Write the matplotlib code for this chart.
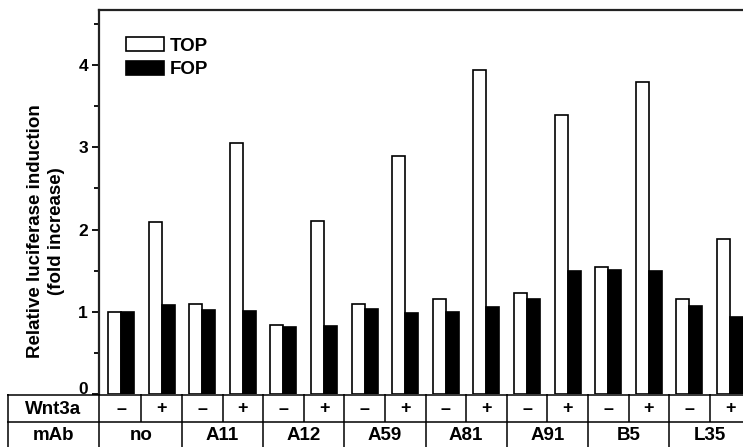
import matplotlib.pyplot as plt
from matplotlib.patches import Patch
from matplotlib.transforms import ScaledTranslation

plt.rcParams['font.family'] = ['Liberation Sans', 'DejaVu Sans']
plt.rcParams['font.weight'] = 'bold'

groups = ['no', 'A11', 'A12', 'A59', 'A81', 'A91', 'B5', 'L35']
wnt = ['\u2013', '+'] * 8
top = [1.00, 2.09, 1.09, 3.05, 0.84, 2.11, 1.10, 2.90,
       1.15, 3.94, 1.23, 3.39, 1.55, 3.80, 1.15, 1.88]
fop = [1.00, 1.08, 1.02, 1.01, 0.82, 0.83, 1.03, 0.99,
       1.00, 1.06, 1.16, 1.50, 1.51, 1.50, 1.07, 0.94]

W, H = 743, 447
fig = plt.figure(figsize=(W / 100, H / 100), dpi=100)

# pixel helpers
ax_l, ax_r, ax_t, ax_b = 99, 743, 10, 394
x0, dx = 121, 40.6
def px2x(p):
    return (p - x0) / dx

ax = fig.add_axes([ax_l / W, 1 - ax_b / H, (ax_r - ax_l) / W, (ax_b - ax_t) / H])
xs = list(range(len(top)))
w = 0.32
ax.bar([x - w for x in xs], top, width=w, align='edge', color='white',
       edgecolor='black', linewidth=1.2, label='TOP')
ax.bar(xs, fop, width=w, align='edge', color='black', edgecolor='black',
       linewidth=1.2, label='FOP')
ax.set_xlim(px2x(ax_l), px2x(ax_r))
ax.set_ylim(0, 4.67)
ax.set_yticks([0, 1, 2, 3, 4])
ax.set_yticks([0.5, 1.5, 2.5, 3.5, 4.5], minor=True)
ax.set_xticks([])
ax.tick_params(axis='y', which='major', length=5, width=1.3, labelsize=12.5, pad=3)
ax.tick_params(axis='y', which='minor', length=3.5, width=1.3)
labs = ax.get_yticklabels()
for lab in labs:
    lab.set_fontweight('bold')
# lift the "0" above the table line
labs[0].set_transform(labs[0].get_transform() +
                      ScaledTranslation(0, 6 / 100, fig.dpi_scale_trans))
ax.spines['bottom'].set_visible(False)
ax.spines['right'].set_visible(False)
for s in ['left', 'top']:
    ax.spines[s].set_linewidth(1.6)
    ax.spines[s].set_color('#222222')

handles = [Patch(facecolor='white', edgecolor='black', linewidth=1.2),
           Patch(facecolor='black', edgecolor='black', linewidth=1.2)]
ax.legend(handles, ['TOP', 'FOP'], loc='upper left', frameon=False,
          bbox_to_anchor=((126 - ax_l) / (ax_r - ax_l), 1 - (37 - ax_t) / (ax_b - ax_t)),
          borderaxespad=0, borderpad=0, handlelength=2.03, handleheight=0.8,
          handletextpad=0.3, labelspacing=0.32,
          prop={'weight': 'bold', 'size': 13.5})

fig.text(46 / W, 1 - 231 / H, 'Relative luciferase induction\n(fold increase)',
         rotation=90, ha='center', va='center', fontsize=13.5,
         fontweight='bold', multialignment='center', linespacing=1.3)

# table below axes
tl = 7
tb = fig.add_axes([tl / W, 0, (W - tl) / W, 1 - ax_b / H])
tb.set_xlim(px2x(tl), px2x(W))
tb.set_ylim(H, ax_b)
tb.axis('off')
row = 422
lw = 1.1
tb.hlines([ax_b + 0.8, row], px2x(tl) + 0.01, px2x(W), color='black', linewidth=lw)
tb.vlines(px2x(tl) + 0.015, ax_b, H, color='black', linewidth=lw)
tb.vlines([px2x(ax_l) + 0.01] + [i + 0.5 for i in range(15)], ax_b, row,
          color='black', linewidth=lw)
tb.vlines([px2x(ax_l) + 0.01] + [2 * g + 1.5 for g in range(7)], row, H,
          color='black', linewidth=lw)
tb.text((px2x(tl) + px2x(ax_l)) / 2, 409, 'Wnt3a', ha='center', va='center',
        fontsize=13.5, fontweight='bold')
tb.text((px2x(tl) + px2x(ax_l)) / 2, 436, 'mAb', ha='center', va='center',
        fontsize=13.5, fontweight='bold')
for i, s in enumerate(wnt):
    tb.text(i, 409, s, ha='center', va='center', fontsize=13, fontweight='bold')
for g, name in enumerate(groups):
    tb.text(2 * g + 0.5, 436, name, ha='center', va='center', fontsize=13.5,
            fontweight='bold')

fig.savefig('out.png', dpi=100)
